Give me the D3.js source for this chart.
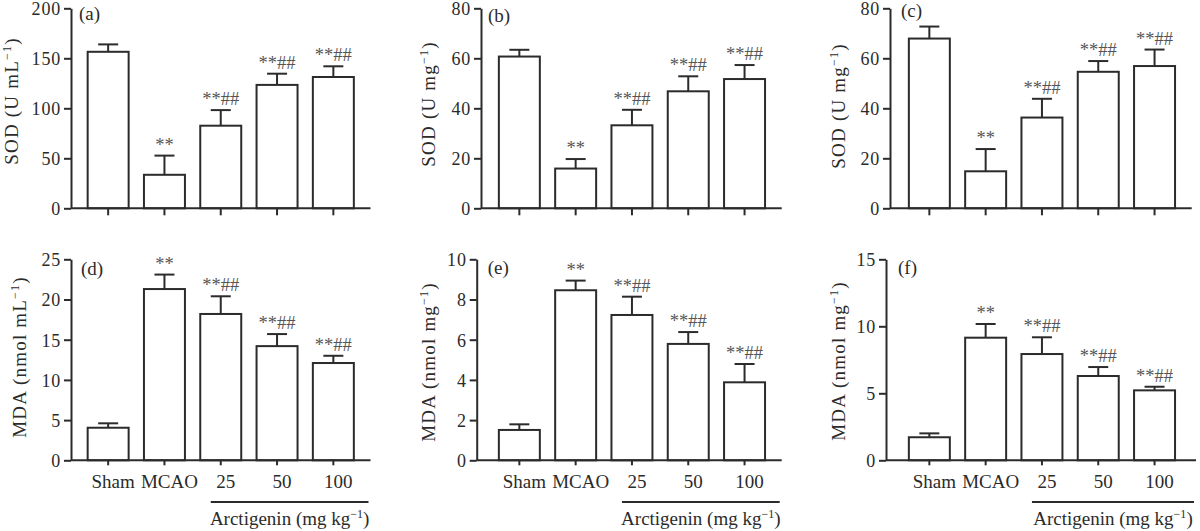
<!DOCTYPE html>
<html><head><meta charset="utf-8">
<script src="https://cdn.jsdelivr.net/npm/d3@7"></script>
<style>
html,body{margin:0;padding:0;background:#fff;}
svg text{font-family:"Liberation Serif","Times New Roman",serif;}
</style></head>
<body><svg id="c" width="1200" height="531"></svg>
<script>
// ---- data ----
const categories = ["Sham", "MCAO", "25", "50", "100"];
const sodSerum   = [156.5, 33.5, 82.6, 123.4, 131.3];
const sodSerumSD = [7.4, 19.2, 15.6, 11.2, 10.7];
const sodCortex   = [60.7, 15.9, 33.2, 46.8, 51.7];
const sodCortexSD = [2.7, 3.8, 6.2, 6.0, 5.6];
const sodHippo   = [67.9, 14.8, 36.3, 54.6, 56.9];
const sodHippoSD = [4.8, 8.9, 7.5, 4.3, 6.6];
const mdaSerum   = [4.05, 21.3, 18.2, 14.2, 12.1];
const mdaSerumSD = [0.55, 1.8, 2.2, 1.5, 0.9];
const mdaCortex   = [1.51, 8.46, 7.23, 5.79, 3.88];
const mdaCortexSD = [0.28, 0.48, 0.91, 0.59, 0.91];
const mdaHippo   = [1.72, 9.15, 7.93, 6.29, 5.22];
const mdaHippoSD = [0.29, 1.02, 1.25, 0.67, 0.27];
const significance = ["", "**", "**##", "**##", "**##"];
const ticksSOD200 = [0, 50, 100, 150, 200];
const ticksSOD80 = [0, 20, 40, 60, 80];
const ticksMDA25 = [0, 5, 10, 15, 20, 25];
const ticksMDA10 = [0, 2, 4, 6, 8, 10];
const ticksMDA15 = [0, 5, 10, 15];
const panelLetters = ["(a)", "(b)", "(c)", "(d)", "(e)", "(f)"];
const yTitles = [["SOD (U mL", ")"], ["SOD (U mg", ")"], ["SOD (U mg", ")"],
                 ["MDA (nmol mL", ")"], ["MDA (nmol mg", ")"], ["MDA (nmol mg", ")"]];
const xTitle = ["Arctigenin (mg kg", ")"];

// ---- layout ----
const rows = [{top: 8.3, bottom: 208.3}, {top: 259.3, bottom: 460.3}];
const panels = [
  {v: sodSerum,  sd: sodSerumSD,  ticks: ticksSOD200, row: 0, axisX: 71,    bandX: 80,    labX: 18,  labY: 101, lx: 8,  ly: 12},
  {v: sodCortex, sd: sodCortexSD, ticks: ticksSOD80,  row: 0, axisX: 481,   bandX: 491.2, labX: 435, labY: 104, lx: 7,  ly: 14},
  {v: sodHippo,  sd: sodHippoSD,  ticks: ticksSOD80,  row: 0, axisX: 890,   bandX: 901.2, labX: 845, labY: 106, lx: 11, ly: 9},
  {v: mdaSerum,  sd: mdaSerumSD,  ticks: ticksMDA25,  row: 1, axisX: 71,    bandX: 80,    labX: 26,  labY: 357, lx: 10, ly: 16},
  {v: mdaCortex, sd: mdaCortexSD, ticks: ticksMDA10,  row: 1, axisX: 476.7, bandX: 491.2, labX: 435, labY: 362, lx: 11, ly: 15},
  {v: mdaHippo,  sd: mdaHippoSD,  ticks: ticksMDA15,  row: 1, axisX: 886,   bandX: 901.2, labX: 845, labY: 361, lx: 12, ly: 15}
];
const step = 56.3;
const ink = "#2b2b2b";

const svg = d3.select("#c");

panels.forEach((p, i) => {
  const r = rows[p.row];
  const g = svg.append("g");
  const x = d3.scaleBand().domain(categories)
      .range([p.bandX, p.bandX + step * categories.length])
      .paddingInner(0.272).paddingOuter(0.136);
  const y = d3.scaleLinear().domain([0, d3.max(p.ticks)]).range([r.bottom, r.top]);
  const axisEnd = (i === 5) ? 1196 : p.bandX + step * categories.length + 9;

  // bars
  g.selectAll("rect.bar").data(categories).join("rect")
    .attr("x", d => x(d)).attr("width", x.bandwidth())
    .attr("y", (d, k) => y(p.v[k])).attr("height", (d, k) => y(0) - y(p.v[k]))
    .attr("fill", "#fff").attr("stroke", ink).attr("stroke-width", 2);

  // error bars (upper only)
  g.selectAll("line.err").data(categories).join("line")
    .attr("x1", d => x(d) + x.bandwidth() / 2).attr("x2", d => x(d) + x.bandwidth() / 2)
    .attr("y1", (d, k) => y(p.v[k])).attr("y2", (d, k) => y(p.v[k] + p.sd[k]))
    .attr("stroke", ink).attr("stroke-width", 2);
  g.selectAll("line.cap").data(categories).join("line")
    .attr("x1", d => x(d) + x.bandwidth() / 2 - 10).attr("x2", d => x(d) + x.bandwidth() / 2 + 10)
    .attr("y1", (d, k) => y(p.v[k] + p.sd[k])).attr("y2", (d, k) => y(p.v[k] + p.sd[k]))
    .attr("stroke", ink).attr("stroke-width", 2);

  // significance marks
  g.selectAll("text.sig").data(categories).join("text")
    .attr("x", d => x(d) + x.bandwidth() / 2)
    .attr("y", (d, k) => y(p.v[k] + p.sd[k]) - 5)
    .attr("text-anchor", "middle").attr("font-size", 18.5).attr("fill", "#555")
    .text((d, k) => significance[k]);

  // y axis
  const yAxis = d3.axisLeft(y).tickValues(p.ticks).tickSize(7).tickPadding(3).tickSizeOuter(0);
  const ya = g.append("g").attr("transform", `translate(${p.axisX},0)`).call(yAxis);
  ya.select(".domain").attr("stroke", ink).attr("stroke-width", 2);
  ya.selectAll(".tick line").attr("stroke", ink).attr("stroke-width", 2);
  ya.selectAll(".tick text").attr("font-size", 18).attr("fill", ink)
    .attr("letter-spacing", 0.8).attr("dy", "0.36em")
    .attr("font-family", '"Liberation Serif","Times New Roman",serif');

  // x axis
  g.append("line").attr("x1", p.axisX).attr("x2", axisEnd)
    .attr("y1", y(0)).attr("y2", y(0)).attr("stroke", ink).attr("stroke-width", 2);
  const tickLen = p.row === 0 ? 7 : 5;
  g.selectAll("line.xt").data(categories).join("line")
    .attr("x1", d => x(d) + x.bandwidth() / 2).attr("x2", d => x(d) + x.bandwidth() / 2)
    .attr("y1", y(0)).attr("y2", y(0) + tickLen)
    .attr("stroke", ink).attr("stroke-width", 2);

  if (p.row === 1) {
    g.selectAll("text.xl").data(categories).join("text")
      .attr("x", d => x(d) + x.bandwidth() / 2 + 5).attr("y", y(0) + 28)
      .attr("text-anchor", "middle").attr("font-size", 19).attr("fill", ink)
      .text(d => d);
    const lx1 = x("25") + x.bandwidth() / 2 - 10;
    const lx2 = axisEnd - 2;
    g.append("line").attr("x1", lx1).attr("x2", lx2).attr("y1", 502).attr("y2", 502)
      .attr("stroke", ink).attr("stroke-width", 2);
    const t = g.append("text").attr("x", (lx1 + lx2) / 2).attr("y", 525)
      .attr("text-anchor", "middle").attr("font-size", 19).attr("fill", ink);
    t.append("tspan").text(xTitle[0]);
    t.append("tspan").attr("font-size", 12).attr("dy", -7).text("−1");
    t.append("tspan").attr("dy", 7).text(xTitle[1]);
  }

  // panel letter
  g.append("text").attr("x", p.axisX + p.lx).attr("y", r.top + p.ly)
    .attr("font-size", 19).attr("fill", ink).text(panelLetters[i]);

  // y title
  const yt = g.append("text").attr("transform", `translate(${p.labX},${p.labY}) rotate(-90)`)
    .attr("text-anchor", "middle").attr("font-size", 19).attr("fill", ink)
    .attr("letter-spacing", 1.2);
  yt.append("tspan").text(yTitles[i][0]);
  yt.append("tspan").attr("font-size", 12).attr("dy", -7).text("−1");
  yt.append("tspan").attr("dy", 7).text(yTitles[i][1]);
});
</script></body></html>
